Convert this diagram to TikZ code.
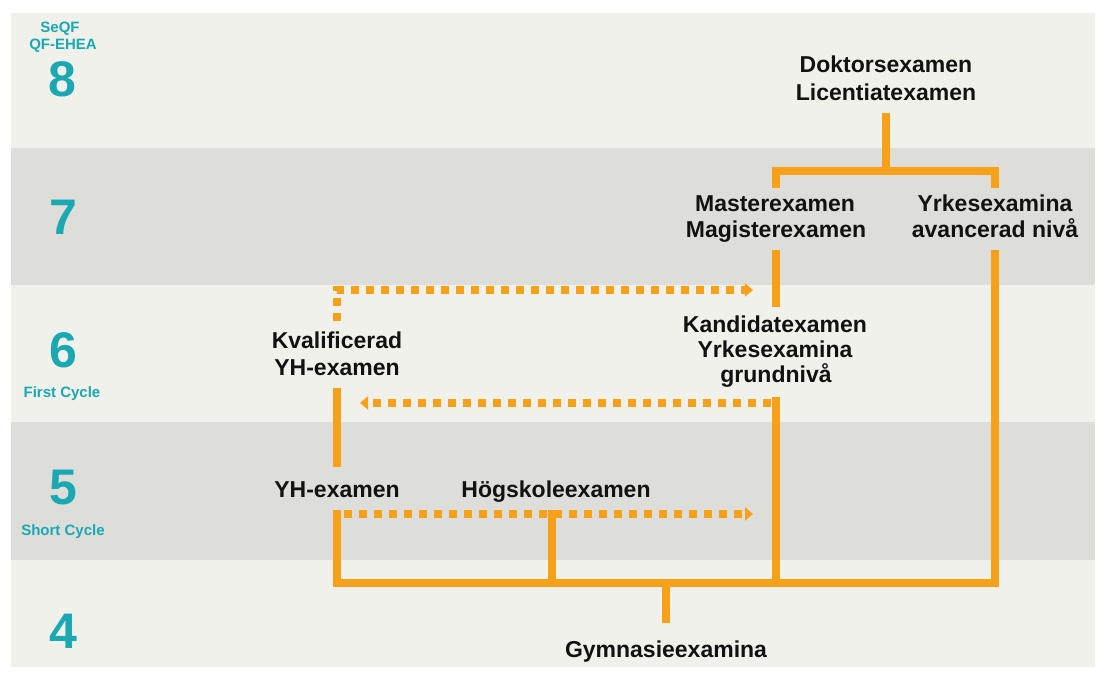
\documentclass[tikz,border=0pt]{standalone}
\usepackage{fontspec}
\setmainfont{Liberation Sans}
\usetikzlibrary{arrows.meta}
\definecolor{bandlight}{HTML}{F1F1EC}
\definecolor{banddark}{HTML}{DDDDDA}
\definecolor{lvlteal}{HTML}{1AA8B3}
\definecolor{orng}{HTML}{F7A11A}
\begin{document}
\begin{tikzpicture}[x=1pt,y=-1pt,
  lbl/.style={font=\fontsize{23}{26}\selectfont\bfseries, text=black!93, anchor=base, inner sep=0pt},
  lvl/.style={font=\fontsize{50}{50}\selectfont\bfseries, text=lvlteal, anchor=base, inner sep=0pt},
  lvlsub/.style={font=\fontsize{15}{17}\selectfont\bfseries, text=lvlteal, anchor=base, inner sep=0pt},
  conn/.style={draw=orng, line width=8pt},
  dotarrow/.style={draw=orng, line width=8pt, dash pattern=on 8pt off 7pt, -{Triangle[length=8pt,width=13pt]}},
]
% background
\fill[white] (0,0) rectangle (1106,679);
\useasboundingbox (0,0) rectangle (1106,679);
\fill[bandlight] (11,13) rectangle (1095,148);
\fill[banddark] (11,148) rectangle (1095,285);
\fill[bandlight] (11,285) rectangle (1095,422);
\fill[banddark] (11,422) rectangle (1095,560);
\fill[bandlight] (11,560) rectangle (1095,667);

% level labels
\node[lvlsub] (seqf) at (60,33) {SeQF};
\node[lvlsub] (qfehea) at (63,50) {QF-EHEA};
\node[lvl] (l8) at (62,97) {8};
\node[lvl] (l7) at (63,235) {7};
\node[lvl] (l6) at (63,367) {6};
\node[lvlsub] (first) at (62,397) {First Cycle};
\node[lvl] (l5) at (63,504) {5};
\node[lvlsub] (short) at (63,535) {Short Cycle};
\node[lvl] (l4) at (63,648) {4};

% degree labels
\node[lbl] (dok1) at (886,73) {Doktorsexamen};
\node[lbl] (dok2) at (886,101) {Licentiatexamen};
\node[lbl] (mas1) at (775,212) {Masterexamen};
\node[lbl] (mas2) at (776,238) {Magisterexamen};
\node[lbl] (yav1) at (995,212) {Yrkesexamina};
\node[lbl] (yav2) at (995,238) {avancerad nivå};
\node[lbl] (kan1) at (775,332) {Kandidatexamen};
\node[lbl] (kan2) at (775,357) {Yrkesexamina};
\node[lbl] (kan3) at (776,382) {grundnivå};
\node[lbl] (kyh1) at (337,348) {Kvalificerad};
\node[lbl] (kyh2) at (337,375) {YH-examen};
\node[lbl] (yh) at (337,497) {YH-examen};
\node[lbl] (hog) at (556,497) {Högskoleexamen};
\node[lbl] (gym) at (666,657) {Gymnasieexamina};

% junction coordinates
\coordinate (dokS) at (886,113);
\coordinate (topM) at (886,171);
\coordinate (topL) at (776,171);
\coordinate (topR) at (995,171);
\coordinate (masN) at (776,188);
\coordinate (yavN) at (995,188);
\coordinate (masS) at (776,250);
\coordinate (kanN) at (776,307);
\coordinate (kanS) at (776,397);
\coordinate (yavS) at (995,250);
\coordinate (kyhS) at (337,388);
\coordinate (yhN) at (337,467);
\coordinate (yhS) at (337,510);
\coordinate (hogS) at (552,510);
\coordinate (botL) at (337,583);
\coordinate (botH) at (552,583);
\coordinate (botK) at (776,583);
\coordinate (botR) at (995,583);
\coordinate (botM) at (666,583);
\coordinate (gymN) at (666,623);

% solid connectors
\draw[conn] (dokS) -- (topM);
\draw[conn] (masN) -- (topL) -- (topR) -- (yavN);
\draw[conn] (masS) -- (kanN);
\draw[conn] (kyhS) -- (yhN);
\draw[conn] (yhS) -- (botL) -- (botR) -- (yavS);
\draw[conn] (kanS) -- (botK);
\draw[conn] (hogS) -- (botH);
\draw[conn] (botM) -- (gymN);

% dotted arrows
\coordinate (d1a) at (337,321);
\coordinate (d1b) at (337,290);
\coordinate (d1c) at (753,290);
\draw[dotarrow] (d1a) -- (d1b) -- (d1c);
\coordinate (d2a) at (771,403);
\coordinate (d2b) at (360,403);
\draw[dotarrow] (d2a) -- (d2b);
\coordinate (d3a) at (344,514);
\coordinate (d3b) at (753,514);
\draw[dotarrow] (d3a) -- (d3b);
\end{tikzpicture}
\end{document}
